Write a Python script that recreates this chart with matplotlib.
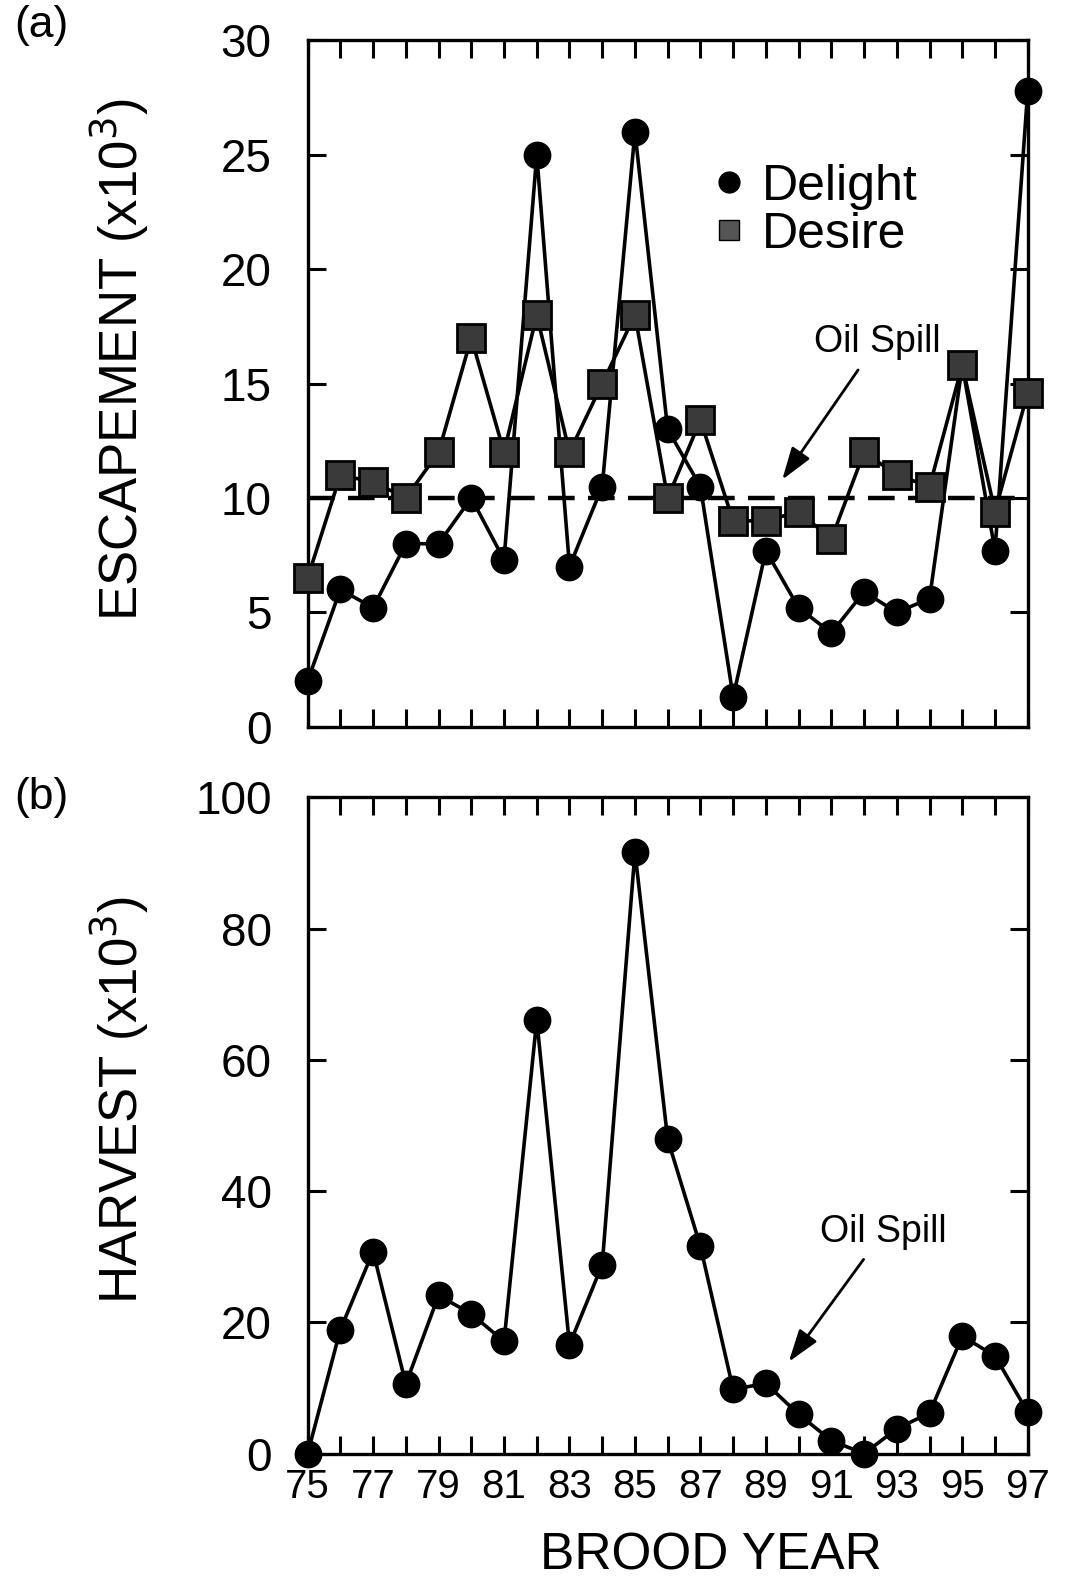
import numpy as np
import matplotlib
matplotlib.use("Agg")
import matplotlib.pyplot as plt
from matplotlib.lines import Line2D

plt.rcParams['font.family'] = ['Liberation Sans', 'DejaVu Sans']

years = list(range(75, 98))
delight = [2.0, 6.0, 5.2, 8.0, 8.0, 10.0, 7.3, 25.0, 7.0, 10.5, 26.0, 13.0,
           10.5, 1.3, 7.7, 5.2, 4.1, 5.9, 5.0, 5.6, 15.8, 7.7, 27.8]
desire = [6.5, 11.0, 10.7, 10.0, 12.0, 17.0, 12.0, 18.0, 12.0, 15.0, 18.0, 10.0,
          13.4, 9.0, 9.0, 9.4, 8.2, 12.0, 11.0, 10.5, 15.8, 9.4, 14.6]
harvest = [0.0, 18.9, 30.8, 10.6, 24.1, 21.3, 17.1, 66.1, 16.6, 28.8, 91.7, 47.9,
           31.6, 9.8, 10.7, 6.0, 2.0, 0.0, 3.8, 6.2, 17.9, 14.9, 6.3]
goal = 10
xtick_labels = [str(y) if y % 2 == 1 else '' for y in years]

fig = plt.figure(figsize=(10.7, 15.83), dpi=100)
ax1 = fig.add_axes([0.2875, 0.5409, 0.673, 0.4336])
ax2 = fig.add_axes([0.2875, 0.0817, 0.673, 0.4146])

def style(ax):
    for s in ax.spines.values():
        s.set_linewidth(2.4)
    ax.set_xlim(75, 97)
    ax.set_xticks(years)
    ax.tick_params(direction='in', length=13, width=2.2, top=True, right=True)
    ax.tick_params(axis='y', labelsize=33, pad=26)
    ax.tick_params(axis='x', labelsize=29, pad=10)

style(ax1)
style(ax2)

# top panel
ax1.axhline(goal, color='k', lw=3.2, ls=(0, (6, 3)), zorder=1)
ax1.plot(years, delight, color='k', lw=2.6, marker='o', ms=19, mfc='k',
         mec='k', clip_on=False, zorder=3)
ax1.plot(years, desire, color='k', lw=2.6, marker='s', ms=20, mfc='#3a3a3a',
         mec='k', mew=2, clip_on=False, zorder=4)
ax1.set_ylim(0, 30)
ax1.set_yticks(range(0, 31, 5))
ax1.set_xticklabels([])

handles = [Line2D([], [], ls='none', marker='o', ms=15, mfc='k', mec='k'),
           Line2D([], [], ls='none', marker='s', ms=15, mfc='#555555', mec='k')]
ax1.legend(handles, ['Delight', 'Desire'], loc='upper left',
           bbox_to_anchor=(0.565, 0.82), frameon=False, fontsize=36,
           handlelength=0.6, handletextpad=0.35, labelspacing=0.04,
           borderpad=0, borderaxespad=0)

ax1.annotate('Oil Spill', xy=(89.5, 10.8), xytext=(92.4, 16.8),
             fontsize=27, ha='center', va='center',
             arrowprops=dict(arrowstyle='-|>,head_length=0.9,head_width=0.3',
                             color='k', lw=2, mutation_scale=22,
                             shrinkA=6, shrinkB=0))

# bottom panel
ax2.plot(years, harvest, color='k', lw=2.6, marker='o', ms=19, mfc='k',
         mec='k', clip_on=False, zorder=3)
ax2.set_ylim(0, 100)
ax2.set_yticks(range(0, 101, 20))
ax2.set_xticklabels(xtick_labels)

ax2.annotate('Oil Spill', xy=(89.7, 14.0), xytext=(92.6, 33.8),
             fontsize=27, ha='center', va='center',
             arrowprops=dict(arrowstyle='-|>,head_length=0.9,head_width=0.3',
                             color='k', lw=2, mutation_scale=22,
                             shrinkA=6, shrinkB=0))

fig.text(119 / 1070, 1 - 360 / 1583, 'ESCAPEMENT (x10$^3$)', rotation=90,
         ha='center', va='center', fontsize=38)
fig.text(119 / 1070, 1 - 1100 / 1583, 'HARVEST (x10$^3$)', rotation=90,
         ha='center', va='center', fontsize=38)
fig.text(711 / 1070, 2 / 1583, 'BROOD YEAR', ha='center', va='bottom',
         fontsize=37)
fig.text(41 / 1070, 1 - 25 / 1583, '(a)', ha='center', va='center', fontsize=32)
fig.text(41 / 1070, 1 - 797 / 1583, '(b)', ha='center', va='center', fontsize=32)

fig.savefig('out.png', dpi=100)
